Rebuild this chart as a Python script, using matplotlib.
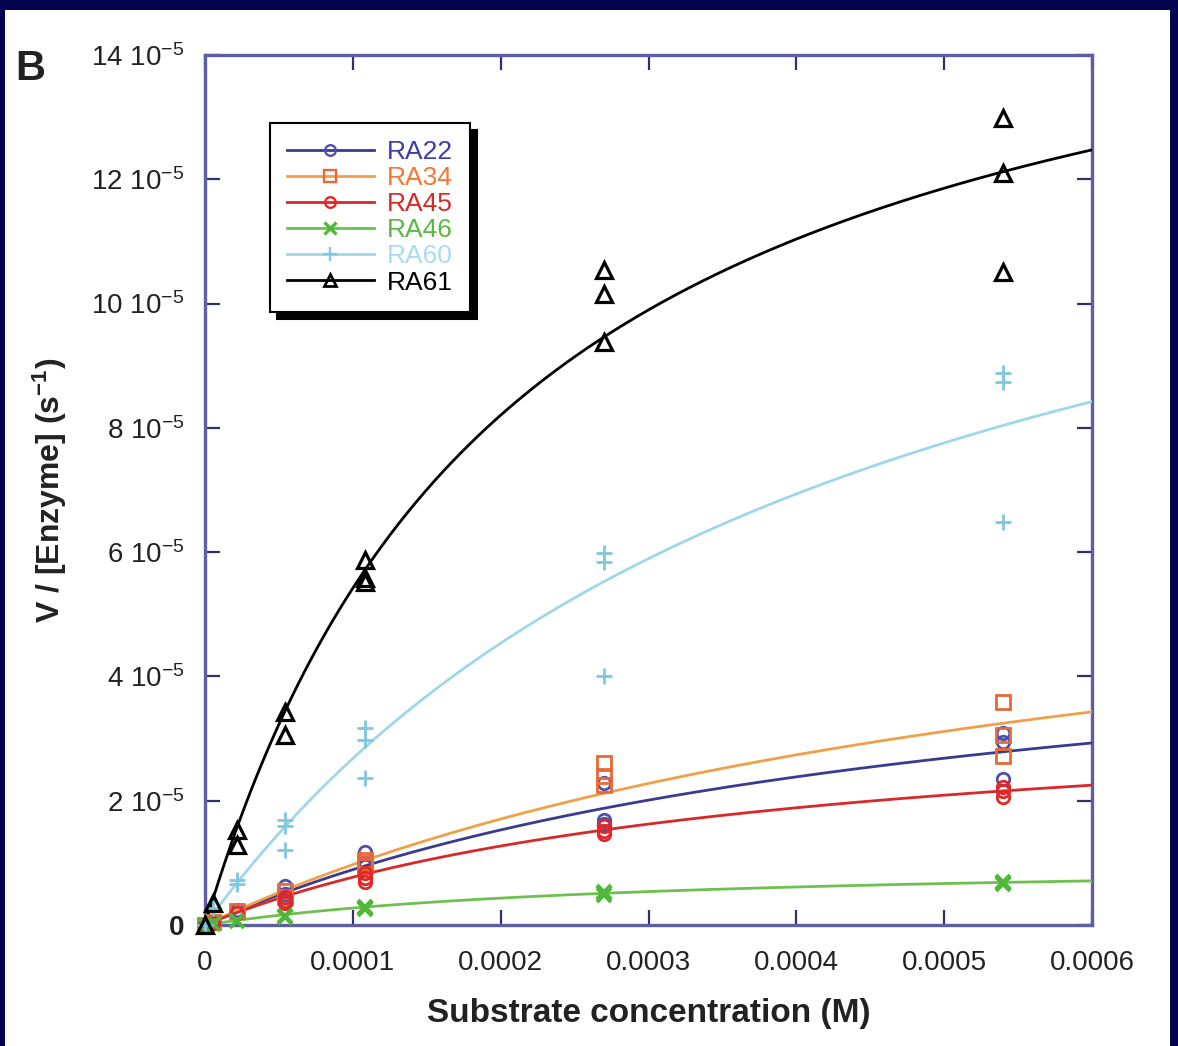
import numpy as np
import matplotlib
matplotlib.use('Agg')
import matplotlib.pyplot as plt
from matplotlib.lines import Line2D
from matplotlib.patches import Rectangle

plt.rcParams['font.family'] = ['Liberation Sans', 'DejaVu Sans']
plt.rcParams['mathtext.fontset'] = 'custom'
plt.rcParams['mathtext.rm'] = 'Liberation Sans'
plt.rcParams['mathtext.it'] = 'Liberation Sans:italic'
plt.rcParams['mathtext.bf'] = 'Liberation Sans:bold'

# ---------------- data (values in units of 1e-5 s^-1) ----------------
substrate = [0, 5.4e-6, 2.16e-5, 5.4e-5, 1.08e-4, 2.7e-4, 5.4e-4]
series_names = ['RA22', 'RA34', 'RA45', 'RA46', 'RA60', 'RA61']

ra22 = [[0], [0.05], [0.24], [0.62, 0.50], [1.17, 1.00, 0.95], [2.29, 1.69, 1.62], [3.09, 2.94, 2.35]]
ra34 = [[0], [0.05], [0.22], [0.55, 0.45], [1.05, 0.95, 1.00], [2.61, 2.40, 2.25], [3.59, 3.05, 2.72]]
ra45 = [[0], [0.04], [0.20], [0.45, 0.38, 0.35], [0.84, 0.75, 0.69], [1.60, 1.52, 1.47], [2.22, 2.15, 2.06]]
ra46 = [[0], [0.02], [0.07], [0.15, 0.13], [0.27, 0.25, 0.29], [0.51, 0.48, 0.53], [0.68, 0.66, 0.70]]
ra60 = [[0], [0.28], [0.72, 0.66], [1.69, 1.59, 1.21], [3.17, 2.98, 2.37], [5.99, 5.84, 4.00], [8.88, 8.74, 6.49]]
ra61 = [[0], [0.35], [1.53, 1.29], [3.43, 3.06], [5.87, 5.58, 5.52], [10.54, 10.15, 9.38], [12.99, 12.10, 10.51]]

# Michaelis-Menten fit parameters
fit_vmax = [5.40, 6.94, 3.66, 1.045, 14.74, 16.86]
fit_km = [5.06e-4, 6.14e-4, 3.76e-4, 2.83e-4, 4.5e-4, 2.11e-4]

x_ticks = [0, 0.0001, 0.0002, 0.0003, 0.0004, 0.0005, 0.0006]
x_tick_labels = ['0', '0.0001', '0.0002', '0.0003', '0.0004', '0.0005', '0.0006']
y_ticks = [0, 2, 4, 6, 8, 10, 12, 14]
y_tick_labels = ['0'] + [f'{v} 10$^{{\\mathregular{{-5}}}}$' for v in y_ticks[1:]]

# ---------------- styles ----------------
line_colors = ['#3a3a90', '#f0a048', '#d82828', '#70c050', '#a0d6ea', '#000000']
marker_colors = ['#5050a8', '#e86838', '#e02828', '#50b838', '#80c8e0', '#000000']
text_colors = ['#3c3ca8', '#f07838', '#d82828', '#58b840', '#a8dcf0', '#000000']
markers = ['o', 's', 'o', 'x', '+', '^']
msizes = [9, 10.5, 9, 10.5, 12, 11]
mews = [2.0, 2.0, 2.0, 2.8, 2.0, 2.3]

all_data = [ra22, ra34, ra45, ra46, ra60, ra61]

fig = plt.figure(figsize=(11.78, 10.46), dpi=100)
fig.patch.set_facecolor('#03034f')
fig.add_artist(Rectangle((5 / 1178, 0), (1170 - 5) / 1178, (1046 - 10) / 1046,
                         transform=fig.transFigure, facecolor='white', edgecolor='none', zorder=-10))

ax = fig.add_axes([205 / 1178, (1046 - 925) / 1046, (1092 - 205) / 1178, (925 - 55) / 1046])
ax.set_facecolor('white')

s_curve = np.linspace(0, 0.0006, 400)
zorders = [3, 3.1, 3.2, 3.0, 2.9, 3.5]
for i, name in enumerate(series_names):
    v = fit_vmax[i] * s_curve / (fit_km[i] + s_curve)
    ax.plot(s_curve, v, color=line_colors[i], lw=2.0, zorder=zorders[i])

for i, name in enumerate(series_names):
    xs, ys = [], []
    for s, reps in zip(substrate, all_data[i]):
        for r in reps:
            xs.append(s)
            ys.append(r)
    if markers[i] in ('x', '+'):
        ax.plot(xs, ys, linestyle='none', marker=markers[i], ms=msizes[i],
                mew=mews[i], color=marker_colors[i], zorder=4 + i * 0.1, clip_on=False)
    else:
        ax.plot(xs, ys, linestyle='none', marker=markers[i], ms=msizes[i],
                mew=mews[i], mec=marker_colors[i], mfc='none', zorder=4 + i * 0.1, clip_on=False)

ax.set_xlim(0, 0.0006)
ax.set_ylim(0, 14)
ax.set_xticks(x_ticks)
ax.set_xticklabels(x_tick_labels)
ax.set_yticks(y_ticks)
ax.set_yticklabels(y_tick_labels)
ax.get_yticklabels()[0].set_fontweight('bold')

ax.tick_params(direction='in', length=11, width=1.6, color='#30306a', top=True, right=True,
               labelsize=20, labelcolor='#222222')
ax.tick_params(axis='x', pad=18)
ax.tick_params(axis='y', pad=15)
for sp in ax.spines.values():
    sp.set_color('#5e5ea4')
    sp.set_linewidth(2.4)

ax.set_xlabel('Substrate concentration (M)', fontsize=24, fontweight='bold', labelpad=16, color='#222222')
ax.set_ylabel('V / [Enzyme] (s$^{\\mathregular{-1}}$)', fontsize=23, fontweight='bold', labelpad=16, color='#222222')

fig.text(15 / 1178, 1 - 80 / 1046, 'B', fontsize=30, fontweight='bold', color='#222222')

handles = [Line2D([0], [0], color=line_colors[i], lw=2.0, marker=markers[i], ms=msizes[i] * 0.85,
                  mew=mews[i] * 0.85, mec=marker_colors[i],
                  mfc='none' if markers[i] not in ('x', '+') else marker_colors[i])
           for i in range(len(series_names))]
leg = ax.legend(handles, series_names, loc='upper left', bbox_to_anchor=(0.073, 0.922),
                borderaxespad=0, fontsize=19, handlelength=3.3, handletextpad=0.5,
                labelspacing=0.08, borderpad=0.65, fancybox=False, framealpha=1,
                edgecolor='black', numpoints=1,
                shadow={'ox': 5, 'oy': -5, 'facecolor': 'black', 'edgecolor': 'black', 'alpha': 1})
leg.get_frame().set_linewidth(1.5)
for t, c in zip(leg.get_texts(), text_colors):
    t.set_color(c)

fig.savefig('out.png', dpi=100, facecolor=fig.get_facecolor())
